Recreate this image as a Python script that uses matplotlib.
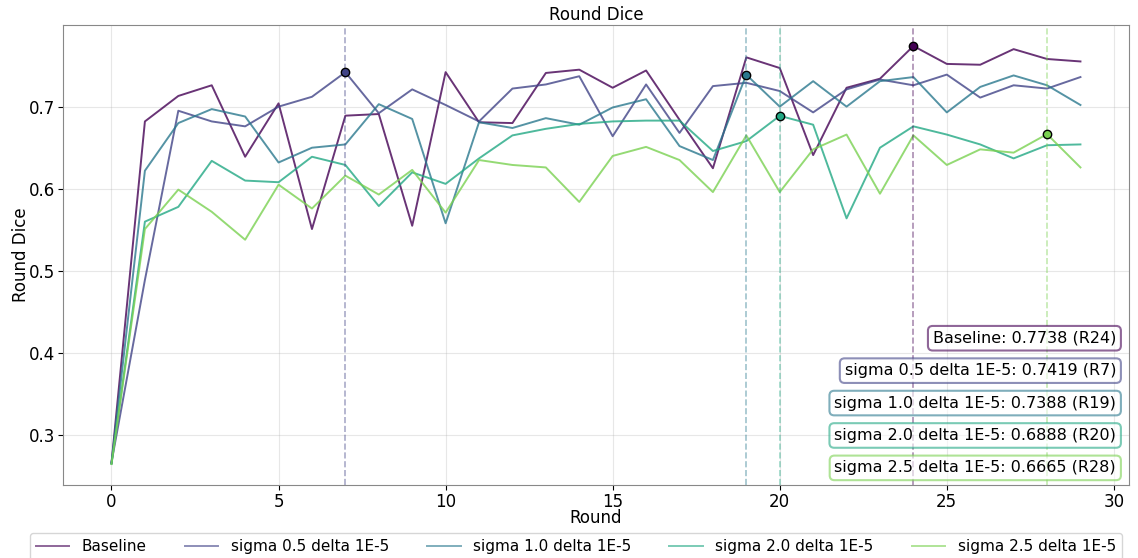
import matplotlib
matplotlib.use("Agg")
import matplotlib.pyplot as plt
import numpy as np

# data
rounds = list(range(30))
names = ["Baseline", "sigma 0.5 delta 1E-5", "sigma 1.0 delta 1E-5",
         "sigma 2.0 delta 1E-5", "sigma 2.5 delta 1E-5"]

baseline = [0.266, 0.682, 0.713, 0.726, 0.639, 0.704, 0.551, 0.689, 0.691, 0.555,
            0.742, 0.681, 0.680, 0.741, 0.745, 0.723, 0.744, 0.684, 0.625, 0.760,
            0.747, 0.641, 0.723, 0.734, 0.7738, 0.752, 0.751, 0.770, 0.758, 0.755]
sigma05 = [0.267, 0.489, 0.695, 0.682, 0.676, 0.700, 0.712, 0.7419, 0.692, 0.721,
           0.702, 0.682, 0.722, 0.727, 0.737, 0.664, 0.727, 0.668, 0.725, 0.729,
           0.719, 0.693, 0.721, 0.733, 0.726, 0.739, 0.711, 0.726, 0.722, 0.736]
sigma10 = [0.266, 0.622, 0.680, 0.697, 0.688, 0.632, 0.650, 0.654, 0.703, 0.685,
           0.558, 0.681, 0.674, 0.686, 0.678, 0.699, 0.709, 0.652, 0.635, 0.7388,
           0.700, 0.731, 0.700, 0.731, 0.736, 0.693, 0.724, 0.738, 0.726, 0.702]
sigma20 = [0.265, 0.560, 0.578, 0.634, 0.610, 0.608, 0.639, 0.629, 0.579, 0.620,
           0.606, 0.637, 0.665, 0.673, 0.679, 0.682, 0.683, 0.683, 0.646, 0.658,
           0.6888, 0.678, 0.564, 0.650, 0.676, 0.666, 0.654, 0.637, 0.653, 0.654]
sigma25 = [0.265, 0.551, 0.599, 0.572, 0.538, 0.605, 0.576, 0.616, 0.593, 0.623,
           0.571, 0.635, 0.629, 0.626, 0.584, 0.640, 0.651, 0.635, 0.596, 0.665,
           0.596, 0.648, 0.666, 0.594, 0.665, 0.629, 0.648, 0.644, 0.6665, 0.626]
series = [baseline, sigma05, sigma10, sigma20, sigma25]

colors = plt.cm.viridis(np.linspace(0, 0.8, 5))

fig = plt.figure(figsize=(11.38, 5.58), dpi=100)
ax = fig.add_axes([0.0554, 0.131, 0.9366, 0.824])

for name, vals, c in zip(names, series, colors):
    ax.plot(rounds, vals, color=c, alpha=0.8, linewidth=1.4, label=name)

for i, (name, vals, c) in enumerate(zip(names, series, colors)):
    best = int(np.argmax(vals))
    ax.axvline(best, color=c, linestyle="--", alpha=0.45, linewidth=1.2)
    ax.scatter([best], [vals[best]], color=c, edgecolor="black", s=36, zorder=5,
               linewidth=1)
    ax.text(0.988, 0.319 - i * 0.0705, f"{name}: {vals[best]:.4f} (R{best})",
            transform=ax.transAxes, ha="right", va="center", fontsize=11.5,
            bbox=dict(boxstyle="round,pad=0.3", facecolor="white",
                      edgecolor=c, alpha=0.6, linewidth=1.5))

ax.set_title("Round Dice", fontsize=12, pad=4)
ax.set_xlabel("Round", fontsize=12, labelpad=-1)
ax.set_ylabel("Round Dice", fontsize=12, labelpad=-1)
ax.tick_params(labelsize=12, pad=2)
ax.grid(True, alpha=0.3)
for s in ax.spines.values():
    s.set_color("#888888")

leg = fig.legend(*ax.get_legend_handles_labels(), loc="upper center",
                 bbox_to_anchor=(0.506, 0.045), borderaxespad=0, ncol=5,
                 fontsize=11, frameon=True, columnspacing=2.5, handlelength=2.2)
for h in leg.legend_handles:
    h.set_alpha(0.6)

fig.savefig("out.png", dpi=100)
